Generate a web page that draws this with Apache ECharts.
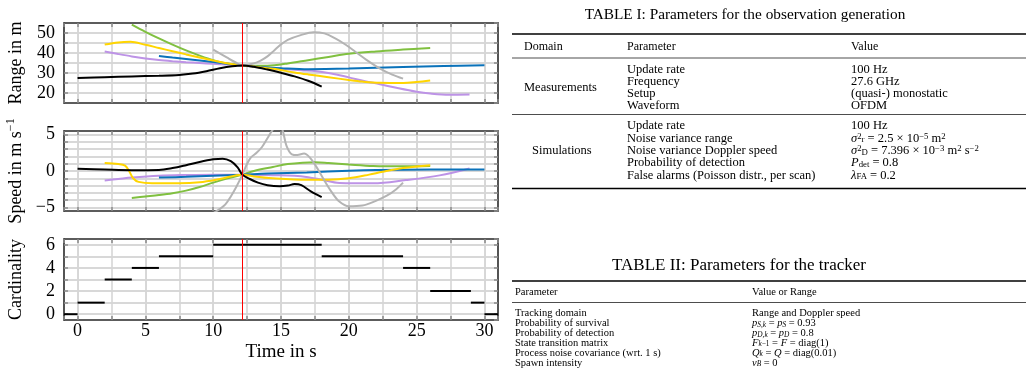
<!DOCTYPE html>
<html>
<head>
<meta charset="utf-8">
<script src="https://cdn.jsdelivr.net/npm/echarts@6/dist/echarts.min.js"></script>
<style>
html, body { margin: 0; padding: 0; background: #fff; }
#chart { width: 1026px; height: 378px; }
</style>
</head>
<body>
<div id="chart"></div>
<script>
const FONT = 'Liberation Serif';
const timeMin = -1;
const timeMax = 31;
const currentTime = 12.15;

// range in m, [time in s, value]
const rangeBlack = [[0,27.5],[2,27.9],[4,28.3],[6,28.6],[7.5,29.0],[8.5,29.7],[9.5,30.9],[10.5,32.4],[11.4,33.4],[12.15,33.8],[13,33.1],[14,31.7],[15,30.1],[16,28.3],[17,26.1],[18,23.2]];
const rangeYellow = [[2,44.2],[3,45.3],[3.9,45.6],[5,44.1],[6,42.5],[7,40.9],[8,39.3],[9,37.8],[10,36.3],[11,34.9],[12.15,33.8],[13,33.2],[14.4,32.1],[16,30.3],[17,29.3],[18.5,27.9],[20,26.5],[21,25.7],[22.3,25.1],[24,25.0],[25,25.5],[26,26.3]];
const rangeGreen = [[4,54.2],[5,50.6],[6,47.3],[7,44.2],[8,41.3],[9,38.7],[10,36.4],[11,34.7],[12.15,33.8],[13.5,33.6],[14.5,33.9],[15.5,34.8],[17,36.4],[18.5,38.0],[20,39.6],[22,40.8],[24,41.7],[26,42.5]];
const rangePurple = [[2,40.8],[3,39.5],[4,38.3],[5,37.3],[6,36.5],[7,35.9],[8,35.4],[9,35.0],[10,34.6],[11,34.2],[12.15,33.8],[13.5,32.9],[15,32.1],[16.5,31.4],[17.6,30.9],[18.7,29.8],[20,27.8],[21.2,25.9],[22.3,24.4],[23.5,22.6],[25,20.6],[26,19.7],[27.4,19.1],[28.9,19.2]];
const rangeBlue = [[6,38.5],[7,37.7],[8,37.0],[9,36.3],[10,35.5],[11,34.6],[12.15,33.8],[13.5,33.0],[15,32.4],[17,31.9],[20,32.2],[24,33.0],[27,33.5],[30,33.9]];
const rangeGray = [[10,41.7],[11,37.8],[11.6,35.5],[12.15,33.8],[13,34.8],[13.5,36.2],[14,38.3],[14.5,41.3],[15,44.3],[15.5,46.6],[16.4,48.8],[17.4,50.4],[18.2,49.8],[19,47.3],[19.8,44.0],[20.5,40.5],[21.3,36.6],[22.3,32.2],[23.2,29.2],[24,27.2]];

// speed in m/s, [time in s, value]
const speedBlack = [[0,0.3],[2,0.2],[4,0.12],[6,0.15],[7,0.4],[8,0.8],[9,1.25],[10,1.6],[10.7,1.7],[11.3,1.35],[11.8,0.5],[12.15,-0.5],[12.7,-1.1],[13.3,-1.6],[14,-1.95],[14.9,-2.1],[15.5,-2.0],[16,-1.8],[16.5,-1.95],[17.2,-2.8],[18,-3.6]];
const speedYellow = [[2,1.1],[3,0.95],[3.5,0.75],[3.8,0.0],[4.1,-1.0],[4.5,-1.5],[5.5,-1.7],[7.5,-1.7],[9,-1.55],[10.5,-1.1],[12.15,-0.5],[13,-0.75],[14.4,-1.0],[16.9,-1.2],[18.5,-1.2],[20,-1.0],[21.5,-0.5],[22.5,-0.1],[24,0.4],[26,0.8]];
const speedGreen = [[4,-3.7],[5,-3.5],[6,-3.3],[7,-3.05],[8,-2.7],[9,-2.2],[10,-1.6],[11,-1.05],[12.15,-0.5],[13,0.0],[14.4,0.55],[15.5,0.95],[16.6,1.15],[17.5,1.2],[18.5,1.1],[20,0.9],[21.8,0.7],[24,0.65],[26,0.7]];
const speedPurple = [[2,-1.3],[3,-1.1],[4,-0.9],[6,-0.65],[8,-0.55],[10,-0.5],[12.15,-0.5],[14.4,-0.57],[16,-0.65],[17,-0.85],[18,-1.2],[19.3,-1.65],[21.8,-1.7],[24.2,-1.25],[26.7,-0.6],[28.9,0.35]];
const speedBlue = [[6,-0.9],[8,-0.8],[10,-0.65],[12.15,-0.5],[14,-0.35],[16.9,-0.2],[20,0.05],[22,0.15],[26,0.2],[30,0.2]];
const speedGray = [[10,-5.8],[10.5,-5.2],[10.9,-4.6],[11.3,-3.5],[11.7,-2.2],[12.15,-0.5],[12.5,1.0],[12.8,1.9],[13.2,2.5],[13.6,3.3],[14,4.5],[14.4,5.7],[14.8,6.4],[15.1,5.7],[15.4,3.5],[15.8,2.3],[16.2,2.2],[16.7,2.4],[17.1,1.9],[17.6,0.6],[18.1,-1.0],[18.7,-2.8],[19.3,-4.2],[20,-4.85],[21,-4.75],[22,-4.1],[22.8,-3.4],[23.5,-2.5],[24,-1.6]];

// cardinality: constant on [start, end]
const cardStart = [-1, 0, 2, 4, 6, 10, 18, 24, 26, 29, 30];
const cardEnd = [0, 2, 4, 6, 10, 18, 24, 26, 29, 30, 31];
const cardValue = [0, 1, 3, 4, 5, 6, 5, 4, 2, 1, 0];

// tables
const table1Title = 'TABLE I: Parameters for the observation generation';
const table1Header = ['Domain', 'Parameter', 'Value'];
const measDomain = 'Measurements';
const measParams = ['Update rate', 'Frequency', 'Setup', 'Waveform'];
const measValues = ['100 Hz', '27.6 GHz', '(quasi-) monostatic', 'OFDM'];
const simDomain = 'Simulations';
const simParams = ['Update rate', 'Noise variance range', 'Noise variance Doppler speed', 'Probability of detection', 'False alarms (Poisson distr., per scan)'];
const simValues = [
    '100 Hz',
    '{it|σ}{sup|2}{sub|r} = 2.5 × 10{sup|−5} m{sup|2}',
    '{it|σ}{sup|2}{sub|D} = 7.396 × 10{sup|−3} m{sup|2} s{sup|−2}',
    '{it|P}{sub|det} = 0.8',
    '{it|λ}{sub|FA} = 0.2',
];
const table2Title = 'TABLE II: Parameters for the tracker';
const table2Header = ['Parameter', 'Value or Range'];
const trackerParams = ['Tracking domain', 'Probability of survival', 'Probability of detection', 'State transition matrix', 'Process noise covariance (wrt. 1 s)', 'Spawn intensity'];
const trackerValues = [
    'Range and Doppler speed',
    '{it|p}{subit|S,k} = {it|p}{subit|S} = 0.93',
    '{it|p}{subit|D,k} = {it|p}{subit|D} = 0.8',
    '{it|F}{subit|k}{sub|−1} = {it|F} = diag(1)',
    '{it|Q}{subit|k} = {it|Q} = diag(0.01)',
    '{it|ν}{subit|B} = 0',
];

const tracks = [
    { color: '#80c040', range: rangeGreen, speed: speedGreen },
    { color: '#bd93e6', range: rangePurple, speed: speedPurple },
    { color: '#0a72ba', range: rangeBlue, speed: speedBlue },
    { color: '#ffd500', range: rangeYellow, speed: speedYellow },
    { color: '#b4b4b4', range: rangeGray, speed: speedGray },
    { color: '#000000', range: rangeBlack, speed: speedBlack },
];

const chart = echarts.init(document.getElementById('chart'));

const tickColor = '#8a8a8a';
const gridColor = '#d6d6d6';
const frameLine = () => ({ show: true, onZero: false, lineStyle: { color: '#333333', width: 1.6 } });
const tickStyle = () => ({ show: true, inside: true, length: 4, lineStyle: { color: tickColor, width: 1.5 } });
const gridLine = () => ({ show: true, lineStyle: { color: gridColor, width: 1.6, type: 'solid' } });
const labelFont = { fontFamily: FONT, fontSize: 18, color: '#000' };

const grids = [
    { left: 64, top: 23, width: 434, height: 80 },
    { left: 64, top: 131, width: 434, height: 80 },
    { left: 64, top: 239, width: 434, height: 81 },
];

const timeAxes = (gridIndex, withLabels) => {
    const base = {
        type: 'value', gridIndex, min: timeMin, max: timeMax, splitNumber: 6,
        axisLine: frameLine(), axisTick: tickStyle(),
        minorTick: { show: true, splitNumber: 2, length: 4, lineStyle: { color: tickColor, width: 1.5 } },
    };
    const bottom = {
        ...base, position: 'bottom', splitLine: gridLine(),
        minorSplitLine: { show: true, lineStyle: { color: gridColor, width: 1.6 } },
        axisLabel: withLabels ? {
            ...labelFont, margin: 2, showMinLabel: false, showMaxLabel: false,
            formatter: (v) => (v % 5 === 0 ? String(v) : ''),
        } : { show: false },
    };
    if (withLabels) {
        Object.assign(bottom, {
            name: 'Time in s', nameLocation: 'middle', nameGap: 23,
            nameTextStyle: { fontFamily: FONT, fontSize: 19, color: '#000' },
        });
    }
    const top = { ...base, position: 'top', splitLine: gridLine(), axisLabel: { show: false } };
    return [bottom, top];
};

const minus = (v) => String(v).replace('-', '−');

const valueAxes = (gridIndex, cfg) => {
    const base = { type: 'value', gridIndex, min: cfg.min, max: cfg.max, axisLine: frameLine(), axisTick: tickStyle() };
    if (cfg.interval) base.interval = cfg.interval; else base.splitNumber = cfg.splitNumber;
    return [
        {
            ...base, position: 'left', splitLine: gridLine(),
            axisLabel: { ...labelFont, margin: 9, showMinLabel: false, showMaxLabel: false, formatter: cfg.formatter },
            name: cfg.name, nameLocation: 'middle', nameRotate: 90, nameGap: cfg.nameGap,
            nameTextStyle: {
                fontFamily: FONT, fontSize: 18, color: '#000', lineHeight: 22,
                rich: { sup: { fontFamily: FONT, fontSize: 12, verticalAlign: 'top', color: '#000' } },
            },
        },
        { ...base, position: 'right', splitLine: gridLine(), axisLabel: { show: false } },
    ];
};

const xAxis = [...timeAxes(0, false), ...timeAxes(1, false), ...timeAxes(2, true)];
const yAxis = [
    ...valueAxes(0, { min: 15, max: 55, interval: 5, name: 'Range in m', nameGap: 37,
        formatter: (v) => (v % 10 === 0 ? String(v) : '') }),
    ...valueAxes(1, { min: -5.5, max: 5.5, splitNumber: 11, name: 'Speed in m s{sup|−1}', nameGap: 37,
        formatter: (v) => (v % 5 === 0 ? minus(v) : '') }),
    ...valueAxes(2, { min: -0.5, max: 6.5, splitNumber: 7, name: 'Cardinality', nameGap: 37,
        formatter: (v) => (v % 2 === 0 && v >= 0 ? String(v) : '') }),
];

const redLine = () => ({
    silent: true, symbol: 'none',
    label: { show: false },
    lineStyle: { color: '#ff0000', width: 1, type: 'solid' },
    emphasis: { disabled: true },
    data: [{ xAxis: currentTime }],
});

const trackSeries = (key, axisIndex) => tracks.map((t, i) => ({
    type: 'line', xAxisIndex: axisIndex, yAxisIndex: axisIndex,
    data: t[key], smooth: 0.35, showSymbol: false, silent: true,
    lineStyle: { color: t.color, width: 2 },
    markLine: i === tracks.length - 1 ? redLine() : undefined,
}));

const cardSeries = cardValue.map((v, i) => ({
    type: 'line', xAxisIndex: 4, yAxisIndex: 4, showSymbol: false, silent: true,
    data: [[cardStart[i], v], [cardEnd[i], v]],
    lineStyle: { color: '#000', width: 2 },
    markLine: i === cardValue.length - 1 ? redLine() : undefined,
}));

// tables drawn with graphic text / lines
const mathRich = (size, lh) => ({
    it: { fontFamily: FONT, fontSize: size, fontStyle: 'italic', lineHeight: lh },
    sup: { fontFamily: FONT, fontSize: size * 0.7, verticalAlign: 'top', lineHeight: size * 0.7 },
    sub: { fontFamily: FONT, fontSize: size * 0.7, verticalAlign: 'bottom', lineHeight: size * 0.7 },
    subit: { fontFamily: FONT, fontSize: size * 0.7, fontStyle: 'italic', verticalAlign: 'bottom', lineHeight: size * 0.7 },
});

const txt = (x, y, text, size, lh, align = 'left') => ({
    type: 'text', x, y, silent: true,
    style: {
        text, fontFamily: FONT, fontSize: size, fill: '#000', lineHeight: lh,
        align, verticalAlign: 'middle', textAlign: align, textVerticalAlign: 'middle',
        rich: mathRich(size, lh),
    },
});

const rule = (y, width) => ({
    type: 'line', silent: true,
    shape: { x1: 512, y1: y, x2: 1026, y2: y },
    style: { stroke: '#000', lineWidth: width },
});

const graphic = [];
graphic.push(txt(745, 15, table1Title, 15.3, 16, 'center'));
graphic.push(rule(34, 1.3));
[524, 627, 851].forEach((x, i) => graphic.push(txt(x, 47, table1Header[i], 12, 12)));
graphic.push(rule(58, 0.7));
measParams.forEach((p, i) => {
    graphic.push(txt(627, 70 + i * 12, p, 12.5, 11.8));
    graphic.push(txt(851, 70 + i * 12, measValues[i], 12.5, 11.8));
});
graphic.push(txt(524, 88, measDomain, 12.5, 12));
graphic.push(rule(114.5, 0.7));
simParams.forEach((p, i) => {
    graphic.push(txt(627, 126 + i * 12.4, p, 12.5, 12.2));
    graphic.push(txt(851, 126 + i * 12.4, simValues[i], 12.5, 12.2));
});
graphic.push(txt(532, 151, simDomain, 12.5, 12));
graphic.push(rule(188.5, 1.6));

graphic.push(txt(739, 266, table2Title, 17, 17, 'center'));
graphic.push(rule(281, 1.3));
graphic.push(txt(515, 292, table2Header[0], 10.5, 10));
graphic.push(txt(752, 292, table2Header[1], 10.5, 10));
graphic.push(rule(302.5, 0.7));
trackerParams.forEach((p, i) => {
    graphic.push(txt(515, 313.5 + i * 9.9, p, 10.5, 9.7));
    graphic.push(txt(752, 313.5 + i * 9.9, trackerValues[i], 10.5, 9.7));
});

chart.setOption({
    animation: false,
    backgroundColor: '#fff',
    textStyle: { fontFamily: FONT },
    grid: grids,
    xAxis,
    yAxis,
    series: [...trackSeries('range', 0), ...trackSeries('speed', 2), ...cardSeries],
    graphic,
});
</script>
</body>
</html>
